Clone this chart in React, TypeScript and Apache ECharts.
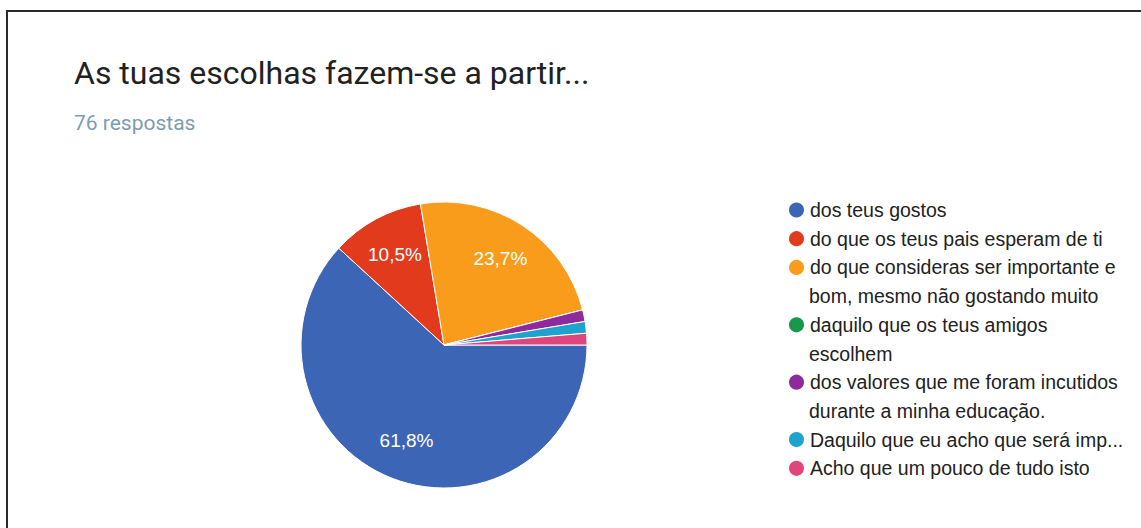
import React, { useEffect, useRef } from 'react';
import * as echarts from 'echarts';

const titleText = 'As tuas escolhas fazem-se a partir...';
const subtitleText = '76 respostas';

const categories = [
  'dos teus gostos',
  'do que os teus pais esperam de ti',
  'do que consideras ser importante e bom, mesmo não gostando muito',
  'daquilo que os teus amigos escolhem',
  'dos valores que me foram incutidos durante a minha educação.',
  'Daquilo que eu acho que será imp...',
  'Acho que um pouco de tudo isto',
];

const legendLines = [
  ['dos teus gostos'],
  ['do que os teus pais esperam de ti'],
  ['do que consideras ser importante e', 'bom, mesmo não gostando muito'],
  ['daquilo que os teus amigos', 'escolhem'],
  ['dos valores que me foram incutidos', 'durante a minha educação.'],
  ['Daquilo que eu acho que será imp...'],
  ['Acho que um pouco de tudo isto'],
];

const counts = [47, 8, 18, 0, 1, 1, 1];

const colors = ['#3d65b6', '#e23a1c', '#fa9c1b', '#17984a', '#8e2a9e', '#1fa2cc', '#e0457b'];

const LEGEND_FIRST = 210;
const LINE = 28.7;
const LEGEND_FONT = '"Liberation Sans", Arial, sans-serif';

export default function App() {
  const ref = useRef<HTMLDivElement>(null);

  useEffect(() => {
    if (!ref.current) return;
    const chart = echarts.init(ref.current, undefined, { renderer: 'svg' });

    const legends: any[] = [];
    let lineIdx = 0;
    categories.forEach((name, i) => {
      legendLines[i].forEach((text, j) => {
        const center = LEGEND_FIRST + lineIdx * LINE;
        lineIdx += 1;
        legends.push({
          data: [
            j === 0
              ? { name }
              : { name, itemStyle: { color: 'rgba(0,0,0,0)', opacity: 0, borderWidth: 0 } },
          ],
          left: 787,
          top: center - LINE / 2,
          orient: 'vertical',
          padding: 0,
          icon: 'circle',
          itemWidth: 17,
          itemHeight: 17,
          itemGap: 0,
          selectedMode: false,
          formatter: () => text,
          textStyle: {
            fontFamily: LEGEND_FONT,
            fontSize: 19.5,
            color: '#222222',
            lineHeight: LINE,
          },
        });
      });
    });

    const pieData = counts.map((v, i) => ({
      name: categories[i],
      value: v,
      itemStyle: { color: colors[i] },
    }));

    chart.setOption({
      animation: false,
      backgroundColor: '#ffffff',
      title: [
        {
          text: titleText,
          left: 74,
          top: 57,
          padding: 0,
          textStyle: {
            fontFamily: 'Roboto, sans-serif',
            fontSize: 32,
            fontWeight: 'normal',
            color: '#212121',
          },
        },
        {
          text: subtitleText,
          left: 74,
          top: 112,
          padding: 0,
          textStyle: {
            fontFamily: 'Roboto, sans-serif',
            fontSize: 21,
            fontWeight: 'normal',
            color: '#7d9cb3',
          },
        },
      ],
      legend: legends,
      graphic: [
        {
          type: 'rect',
          shape: { x: 7, y: 11, width: 1400, height: 800 },
          style: { fill: 'none', stroke: '#2b2b2b', lineWidth: 2 },
          silent: true,
        },
      ],
      series: [
        {
          type: 'pie',
          radius: 143,
          center: [444, 345],
          startAngle: 0,
          clockwise: true,
          silent: true,
          data: pieData,
          label: { show: false },
          labelLine: { show: false },
          itemStyle: { borderColor: '#ffffff', borderWidth: 1 },
        },
        {
          type: 'pie',
          radius: [57, 143],
          center: [444, 345],
          startAngle: 0,
          clockwise: true,
          silent: true,
          legendHoverLink: false,
          data: counts.map((v, i) => ({ name: categories[i], value: v })),
          itemStyle: { color: 'rgba(0,0,0,0)', borderWidth: 0 },
          labelLine: { show: false },
          label: {
            show: true,
            position: 'inside',
            color: '#ffffff',
            fontFamily: LEGEND_FONT,
            fontSize: 19,
            formatter: (p: any) =>
              p.percent >= 5 ? p.percent.toFixed(1).replace('.', ',') + '%' : '',
          },
        },
      ],
    });

    return () => chart.dispose();
  }, []);

  return (
    <div style={{ position: 'fixed', left: 0, top: 0, width: 1141, height: 528, background: '#fff' }}>
      <div ref={ref} style={{ width: 1141, height: 528 }} />
    </div>
  );
}
